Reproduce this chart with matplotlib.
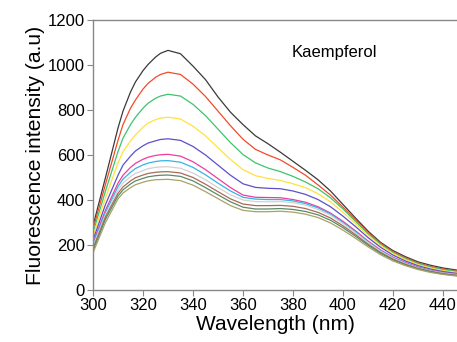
import matplotlib
matplotlib.use("Agg")
import matplotlib.pyplot as plt

plt.rcParams['font.family'] = ['Liberation Sans', 'DejaVu Sans']

wavelength = [300, 305, 310, 312, 315, 317, 320, 322, 325, 327, 330, 335, 340, 345, 350, 355,
              360, 365, 370, 375, 380, 385, 390, 395, 400, 405, 410, 415, 420, 425, 430,
              435, 440, 447]

s_black = [285, 500, 720, 795, 880, 925, 975, 1002, 1035, 1052, 1065, 1050, 995, 935, 858,
           790, 735, 685, 650, 612, 572, 532, 490, 440, 380, 320, 262, 212, 175, 148, 125,
           110, 98, 86]
s_red = [270, 470, 665, 735, 808, 845, 893, 918, 945, 958, 968, 958, 915, 860, 795,
         730, 670, 625, 600, 578, 545, 510, 467, 422, 368, 312, 256, 208, 170, 143, 120,
         105, 93, 83]
s_green = [255, 440, 615, 675, 735, 768, 808, 830, 852, 862, 870, 862, 825, 775, 715,
           655, 602, 565, 542, 526, 505, 480, 450, 410, 360, 305, 250, 203, 166, 139, 117,
           102, 90, 80]
s_yellow = [240, 410, 565, 615, 662, 690, 724, 742, 757, 764, 768, 760, 728, 685, 632,
            580, 535, 508, 496, 487, 472, 455, 428, 392, 345, 295, 243, 198, 162, 135, 113,
            98, 86, 76]
s_blue = [222, 380, 510, 555, 595, 618, 641, 653, 663, 669, 672, 665, 638, 600, 555,
          510, 472, 456, 452, 450, 440, 425, 402, 370, 328, 282, 233, 190, 155, 129, 108,
          93, 82, 72]
s_pink = [210, 355, 475, 510, 545, 563, 581, 590, 598, 601, 603, 595, 570, 535, 495,
          455, 422, 412, 411, 410, 402, 390, 370, 342, 305, 263, 218, 178, 146, 122, 102,
          88, 78, 69]
s_cyan = [203, 345, 460, 493, 523, 540, 556, 564, 571, 574, 575, 568, 545, 512, 475,
          440, 412, 404, 402, 402, 396, 384, 365, 338, 300, 258, 214, 175, 143, 119, 100,
          86, 76, 67]
s_gray = [195, 335, 445, 475, 503, 518, 531, 539, 545, 547, 548, 541, 520, 490, 455,
          423, 400, 393, 392, 393, 388, 377, 358, 332, 295, 254, 211, 172, 141, 117, 98,
          85, 75, 66]
s_brown = [185, 325, 430, 458, 485, 499, 511, 518, 523, 525, 526, 520, 500, 470, 437,
           405, 382, 375, 375, 376, 372, 362, 345, 320, 285, 246, 204, 167, 137, 114, 96,
           83, 73, 64]
s_dkgreen = [175, 315, 418, 445, 471, 485, 496, 503, 508, 510, 511, 505, 485, 455, 423,
             392, 368, 360, 360, 362, 358, 349, 334, 310, 277, 239, 199, 163, 134, 112, 94,
             81, 71, 62]
s_olive = [165, 300, 405, 431, 455, 468, 479, 485, 490, 491, 492, 486, 466, 437, 406,
           375, 354, 348, 348, 350, 346, 337, 322, 298, 266, 230, 192, 157, 129, 108, 91,
           78, 69, 60]

series = [s_black, s_red, s_green, s_yellow, s_blue, s_pink, s_cyan, s_gray,
          s_brown, s_dkgreen, s_olive]
colors = ['#3a3a3a', '#f24a2a', '#3cc46c', '#ffe23c', '#5e4fca', '#f03c9c',
          '#34b4e4', '#d2d2d2', '#a86a58', '#5a8a66', '#a8a266']

x_ticks = [300, 320, 340, 360, 380, 400, 420, 440]
y_ticks = [0, 200, 400, 600, 800, 1000, 1200]

W, H = 457, 342
fig = plt.figure(figsize=(W / 100, H / 100), dpi=100)
ax = fig.add_axes([93 / W, 1 - 290 / H, 1 - 93 / W, (290 - 20) / H])

for s, c in zip(series, colors):
    ax.plot(wavelength, s, color=c, lw=0.9)

ax.set_xlim(300, 445.6)
ax.set_ylim(0, 1200)
ax.set_xticks(x_ticks)
ax.set_yticks(y_ticks)
ax.tick_params(direction='out', length=4, width=0.8, color='#888888',
               labelsize=12, pad=2)
for side in ['left', 'bottom', 'top']:
    ax.spines[side].set_color('#888888')
    ax.spines[side].set_linewidth(1.0)
ax.spines['right'].set_visible(False)

ax.set_xlabel('Wavelength (nm)', fontsize=15, labelpad=1)
ax.set_ylabel('Fluorescence intensity (a.u)', fontsize=15.2, labelpad=2)
fig.text(292 / W, 1 - 53 / H, 'Kaempferol', fontsize=12, va='center', ha='left')

fig.savefig('out.png', dpi=100)
